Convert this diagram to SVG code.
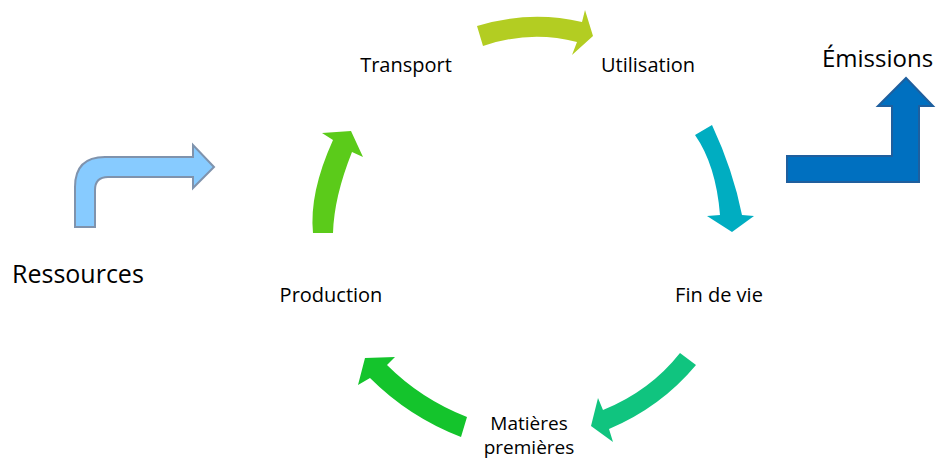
<svg xmlns="http://www.w3.org/2000/svg" width="938" height="460" viewBox="0 0 938 460">
  <style>
    .lbl { font-family: "Open Sans", "Liberation Sans", sans-serif; font-size: 20px; fill: #000; text-anchor: middle; }
    .two { font-size: 19px; }
    .big { font-family: "Open Sans", "Liberation Sans", sans-serif; font-size: 24px; fill: #000; }
  </style>
  <rect width="938" height="460" fill="#fff"/>

  <!-- Block arrows of the life cycle, plus input and output arrows -->
  <g id="connectors">
    <!-- Transport -> Utilisation -->
    <path d="M477,26 Q530,10 582,22 L585,10 L593,36 L572,55 L577,42 Q530,30 483,46 Z" fill="#B3CD22"/>
    <!-- Utilisation -> Fin de vie -->
    <path d="M695,135 L712,125 Q733,170 742,215 L754,216 L732,232 L707,216 L720,215 Q716,165 695,135 Z" fill="#00ADC1"/>
    <!-- Fin de vie -> Matières premières -->
    <path d="M680,353 Q650,391 603,410 L598,398 L591,426 L613,442 L609,429 Q661,407 696,365 Z" fill="#10C47F"/>
    <!-- Matières premières -> Production -->
    <path d="M467,417 Q421,399 387,365 L395,357 L365,358 L358,385 L370,378 Q409,417 461,437 Z" fill="#14C42C"/>
    <!-- Production -> Transport -->
    <path d="M313,233 Q309,193 333,140 L322,133 L351,131 L363,157 L352,152 Q334,197 333,233 Z" fill="#5BCB1A"/>
    <!-- Ressources input -->
    <path d="M75,227 V187 Q75,157 105,157 H193 V145 L214,167 L193,188 V177 H108 Q95,177 95,190 V227 Z" fill="#87CBFF" stroke="#7F93AD" stroke-width="2" stroke-linejoin="miter"/>
    <!-- Émissions output -->
    <path d="M787,156 H892 V106 H878 L906,78 L933,106 H919 V182 H787 Z" fill="#0070C0" stroke="#1F5F9E" stroke-width="2"/>
  </g>

  <g id="transport"><text class="lbl" x="406" y="72">Transport</text></g>
  <g id="utilisation"><text class="lbl" x="648" y="72">Utilisation</text></g>
  <g id="fin-de-vie"><text class="lbl" x="719" y="302">Fin de vie</text></g>
  <g id="matieres-premieres">
    <text class="lbl two" x="529" y="430">Matières</text>
    <text class="lbl two" x="529" y="454">premières</text>
  </g>
  <g id="production"><text class="lbl" x="331" y="302">Production</text></g>
  <g id="ressources"><text class="big" x="12" y="283" style="font-size:25px">Ressources</text></g>
  <g id="emissions"><text class="big" x="822" y="67">Émissions</text></g>
</svg>
